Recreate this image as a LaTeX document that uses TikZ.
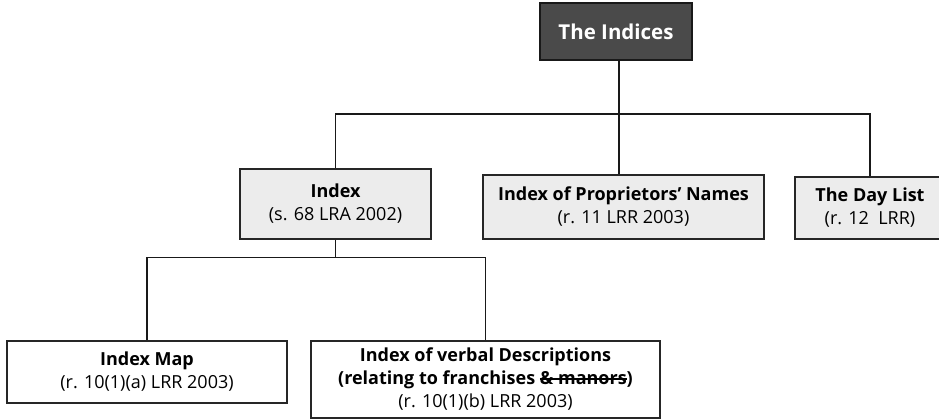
\documentclass[tikz,border=0pt]{standalone}
\usepackage{fontspec}
\setmainfont{Open Sans}
\definecolor{rootfill}{HTML}{4A4A4A}
\definecolor{boxfill}{HTML}{ECECEC}
\newcommand\mystrike[1]{\setbox0\hbox{#1}\rlap{\rule[0.3em]{\wd0}{0.09em}}\box0}
\begin{document}
\begin{tikzpicture}[x=1pt,y=-1pt,
  box/.style={draw=black!85, line width=1.3pt, inner sep=0pt, align=center,
              font=\fontsize{18}{23}\selectfont},
  gbox/.style={box, fill=boxfill},
  wbox/.style={box, fill=white},
  link/.style={draw=black!90, line width=1.4pt}]
\useasboundingbox (0,0) rectangle (939,419);
\node[box, fill=rootfill, draw=black!90, text=white,
      font=\fontsize{20.5}{25}\selectfont\bfseries,
      minimum width=152pt, minimum height=57pt] (root) at (616,31.5) {The Indices};
\node[gbox, minimum width=191pt, minimum height=70pt] (index) at (335.5,204)
  {\textbf{Index}\\(s. 68 LRA 2002)};
\node[gbox, minimum width=281pt, minimum height=64pt] (prop) at (623.5,207)
  {\textbf{Index of Proprietors’ Names}\\(r. 11 LRR 2003)};
\node[gbox, minimum width=150pt, minimum height=62pt] (day) at (870,208)
  {\textbf{The Day List}\\(r. 12\ \ LRR)};
\node[wbox, minimum width=280pt, minimum height=62pt] (map) at (147,372)
  {\textbf{Index Map}\\(r. 10(1)(a) LRR 2003)};
\node[wbox, minimum width=349pt, minimum height=77pt] (verbal) at (485.5,379.5)
  {\textbf{Index of verbal Descriptions}\\\textbf{(relating to franchises \mystrike{\& manors})}\\(r. 10(1)(b) LRR 2003)};
\coordinate (j1) at (619,114);
\draw[link] (root.south -| j1) -- (j1);
\draw[link] (index.north) |- (j1) -| (day.north);
\draw[link] (j1) -- (j1 |- prop.north);
\draw[link] (index.south) -- ++(0,18) coordinate (j2);
\draw[link] (map.north) |- (j2) -| (verbal.north);
\end{tikzpicture}
\end{document}
